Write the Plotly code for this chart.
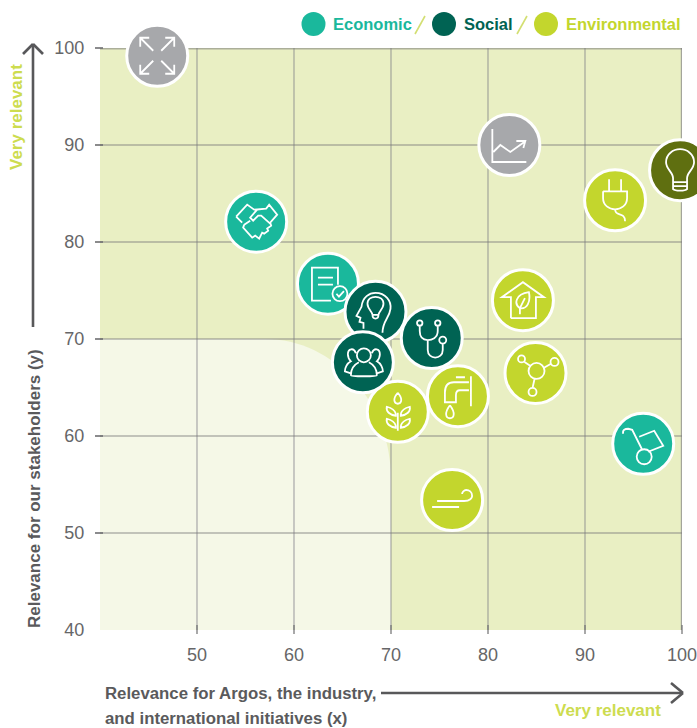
import plotly.graph_objects as go

# ---------- data ----------
topics = ["Expansion", "Partnerships", "Compliance", "Agriculture", "Water", "Knowledge",
          "Health", "Community", "Housing", "Circularity", "Air", "Energy", "Innovation", "Growth", "Logistics"]
x_vals = [45.9, 56.1, 63.5, 70.7, 76.9, 68.4, 74.2, 67.1, 83.6, 84.9, 76.3, 93.1, 99.8, 82.2, 96.0]
y_vals = [99.2, 82.1, 75.7, 62.5, 64.1, 72.8, 70.1, 67.6, 74.0, 66.5, 53.4, 84.3, 87.4, 90.0, 59.2]
groups = ["other", "eco", "eco", "env", "env", "soc", "soc", "soc", "env", "env", "env", "env", "dark", "other", "eco"]
icons_for = ["expand", "hands", "doc", "wheat", "tap", "head", "steth", "people", "house", "nodes", "wind", "plug", "bulb", "chart", "cart"]

tick_x = [50, 60, 70, 80, 90, 100]
tick_y = [40, 50, 60, 70, 80, 90, 100]
AX_MIN, AX_MAX = 40, 100

TEAL, DARK, LIME, GRAY, OLIVE = "#1AB89C", "#006353", "#C3D62D", "#A7A8AB", "#5F6F10"
palette = {"eco": TEAL, "soc": DARK, "env": LIME, "other": GRAY, "dark": OLIVE}
TXT = "#5A5A5C"
BOLD = "Liberation Sans, sans-serif"

# ---------- icon helpers: screen-space pixels around the marker centre (y down) ----------
def pl(*pts, close=False):
    return [("M", pts[0])] + [("L", p) for p in pts[1:]] + ([("Z",)] if close else [])

def cv(start, *segs):
    out = [("M", start)]
    for s in segs:
        out.append(("C", s[0], s[1], s[2]) if len(s) == 3 else ("L", s[0]))
    return out

def circ(cx, cy, r):
    k = 0.5523 * r
    return [("M", (cx + r, cy)),
            ("C", (cx + r, cy + k), (cx + k, cy + r), (cx, cy + r)),
            ("C", (cx - k, cy + r), (cx - r, cy + k), (cx - r, cy)),
            ("C", (cx - r, cy - k), (cx - k, cy - r), (cx, cy - r)),
            ("C", (cx + k, cy - r), (cx + r, cy - k), (cx + r, cy)), ("Z",)]

def to_path(parts):
    s = []
    for part in parts:
        for seg in part:
            if seg[0] == "Z":
                s.append("Z")
            else:
                s.append(seg[0] + " ".join(f"{p[0]},{-p[1]}" for p in seg[1:]))
    return " ".join(s)

expand = []
for sx in (-1, 1):
    for sy in (-1, 1):
        expand.append(pl((sx * 17, sy * 9), (sx * 17, sy * 18), (sx * 8, sy * 18)))
        expand.append(pl((sx * 17, sy * 18), (sx * 4, sy * 5)))

ICONS = {
    "expand": expand,
    "hands": [pl((-20, -5), (-9, -17), (-2, -12), (10, -13), (13, -17), (21, -7), (14, 1), (15, 4), (11, 7), (12, 9), (8, 12), (6, 11), (3, 17), (-1, 14), (-4, 16), (-13, 6), (-12, 3)),
              pl((10, -13), (1, -12), (-6, -4), (-3, -1), (2, -6), (5, -6), (14, 2)),
              pl((-20, -5), (-14, 1)), pl((-12, 3), (-6, -1))],
    "doc": [pl((10, 1), (10, -16), (-16, -16), (-16, 17), (3, 17)),
            pl((-10, -6), (5, -6)), pl((-10, 1), (5, 1)),
            circ(12, 10, 7.5), pl((8.5, 10), (11, 13), (16, 7.5))],
    "head": [cv((-12, 17), [(-12, 11)], [(-16, 10)], [(-15, 6)], [(-19, 4)], [(-14, -5)],
                ((-13, -15), (-6, -19), (0, -19)), ((10, -19), (16, -11), (15, -3)),
                ((14, 6), (7, 9), (7, 21))),
             cv((-3, 3), ((-3, 0), (-8, -3), (-8, -8)), ((-8, -13), (-4, -15), (0, -15)),
                ((4, -15), (8, -13), (8, -8)), ((8, -3), (3, 0), (3, 3))),
             pl((-3, 3), (3, 3)), cv((-3, 3), ((-3, 8), (3, 8), (3, 3)))],
    "steth": [circ(-12, -15, 2.7), circ(6, -15, 2.7), circ(11, 2, 3.5),
              cv((-12, -12), [(-12, -7)], ((-12, 0), (-8, 2), (-4, 2)), ((0, 2), (6, 0), (6, -7)), [(6, -12)]),
              cv((-4, 2), [(-4, 12)], ((-4, 22), (11, 22), (11, 12)), [(11, 6)])],
    "people": [circ(1, -7, 7),
               cv((-12, 13), ((-12, 14.5), (14, 14.5), (14, 13))),
               cv((-12, 13), ((-12, 6), (-8, 2), (-4, 0))),
               cv((14, 13), ((14, 6), (10, 2), (6, 0))),
               cv((-7, -9), ((-9, -15), (-15, -14), (-15, -8)), ((-15, -4), (-13, -2), (-12, -1)), ((-16, 1), (-18, 6), (-18, 9)), [(-12, 11)]),
               cv((9, -9), ((11, -15), (17, -14), (17, -8)), ((17, -4), (15, -2), (14, -1)), ((18, 1), (20, 6), (20, 9)), [(14, 11)])],
    "wheat": [cv((0, -19), ((-6, -12), (-3, -8), (0, -8)), ((3, -8), (6, -12), (0, -19))),
              cv((-2, 2), ((-3, -2), (-7, -4), (-11, -5)), ((-12, 0), (-8, 3), (-2, 4)), [(-2, 2)]),
              cv((3, 2), ((4, -2), (8, -4), (12, -5)), ((13, 0), (9, 3), (3, 4)), [(3, 2)]),
              cv((-2, 14), ((-3, 10), (-7, 8), (-11, 7)), ((-12, 12), (-8, 15), (-2, 16)), [(-2, 14)]),
              cv((3, 14), ((4, 10), (8, 8), (12, 7)), ((13, 12), (9, 15), (3, 16)), [(3, 14)]),
              pl((0, 1), (0, 19))],
    "tap": [pl((13, -20), (13, 10)), pl((-2, -19), (7, -19)),
            cv((11, -14), [(-4, -14)], ((-10, -14), (-13, -10), (-13, -4)), [(-13, 6)], [(-2, 6)], [(-2, -1)], ((-2, -4), (-1, -6), (2, -6)), [(11, -6)]),
            cv((-8, 9), ((-14, 17), (-12, 22), (-8, 22)), ((-4, 22), (-2, 17), (-8, 9)))],
    "house": [pl((-12, 18), (-12, -3), (-21, -3), (0, -18), (21, -3), (13, -3), (13, 18), (-12, 18)),
              cv((-3, 14), [(-3, 8)]),
              cv((-3, 8), ((-9, 4), (-8, -6), (6, -8)), ((8, 2), (4, 9), (-3, 8))),
              pl((-3, 8), (2, -2))],
    "nodes": [circ(1, -2, 8), circ(-14, -14, 3.5), circ(19, -11, 4), circ(-3, 19, 4),
              pl((-11, -11), (-5, -7)), pl((15, -9), (8, -5)), pl((-1, 6), (-3, 15))],
    "wind": [cv((-15, 1), [(12, 1)], ((18, 1), (20, -2), (20, -4)), ((20, -8), (17, -10), (14, -10)), ((12, -10), (10, -8), (10, -6))),
             pl((-20, 7), (7, 7))],
    "plug": [pl((-6, -21), (-6, -9)), pl((6, -21), (6, -9)),
             cv((-12, -9), [(12, -9)], [(12, -2)], ((12, 5), (6, 9), (0, 9)), ((-6, 9), (-12, 5), (-12, -2)), [(-12, -9)]),
             cv((0, 9), ((0, 17), (10, 11), (10, 21)))],
    "bulb": [cv((-7, 8), ((-7, 2), (-14, -1), (-14, -8)), ((-14, -16), (-7, -21), (0, -21)),
                ((7, -21), (14, -16), (14, -8)), ((14, -1), (7, 2), (7, 8)), [(7, 19)], ((5, 21), (-5, 21), (-7, 19)), [(-7, 8)]),
             pl((-7, 12), (7, 12)), pl((-7, 16), (7, 16))],
    "chart": [pl((-17, -16), (-17, 17), (17, 17)), pl((-16, 7), (-9, 0), (1, 7), (15, -3)), pl((7, -4), (16, -4), (14, 3))],
    "cart": [cv((-20, -10), ((-21, -14), (-18, -15), (-15, -15)), [(-11, -14)], [(-1, 6)]),
             circ(1, 13, 7.5), pl((-4, -7), (11, -13), (20, 2), (5, 8))],
}

# ---------- coordinate helpers ----------
def frac(v):
    return (v - AX_MIN) / (AX_MAX - AX_MIN)

def px(v):
    return (v - 100) / 582

def py(v):
    return (630 - v) / 582

shapes = []
# pale lower-left region (paper-referenced so it stays under the grid lines)
pale = (f"M{frac(40)},{frac(40)} L{frac(40)},{frac(70)} L{frac(57)},{frac(70)} "
        f"C{frac(64.15)},{frac(70)} {frac(70)},{frac(63.5)} {frac(70)},{frac(55.5)} L{frac(70)},{frac(40)} Z")
shapes.append(dict(type="path", xref="paper", yref="paper", layer="below", line=dict(width=0), fillcolor="#F5F8E7", path=pale))
# grid
for v in tick_x:
    w = 1.2 if v != AX_MAX else 2.4
    shapes.append(dict(type="line", xref="x", yref="paper", x0=v, x1=v, y0=0, y1=1, layer="below",
                       line=dict(color="rgba(120,120,130,0.62)", width=w)))
    shapes.append(dict(type="line", xref="paper", yref="paper", ysizemode="pixel", yanchor=0, x0=frac(v), x1=frac(v), y0=5, y1=-4, layer="below",
                       line=dict(color="#6E6E70", width=1.2)))
for v in tick_y[1:]:
    w = 1.6 if v != AX_MAX else 3
    shapes.append(dict(type="line", xref="paper", yref="y", x0=0, x1=1, y0=v, y1=v, layer="below",
                       line=dict(color="rgba(120,120,120,0.55)", width=w)))
    shapes.append(dict(type="line", xref="paper", yref="paper", xsizemode="pixel", xanchor=0, x0=-5, x1=3, y0=frac(v), y1=frac(v), layer="below",
                       line=dict(color="#6E6E70", width=1.6)))
# icons, anchored to the data values (paper refs so that they are not clipped at the axes' ends)
for name, xv, yv in zip(icons_for, x_vals, y_vals):
    shapes.append(dict(type="path", xref="paper", yref="paper", xsizemode="pixel", ysizemode="pixel",
                       xanchor=frac(xv), yanchor=frac(yv),
                       path=to_path(ICONS[name]), layer="above", line=dict(color="white", width=1.8)))
# arrows
ARW = dict(color="#58585A", width=2.6)
for a, b in [((33, 327), (33, 45)), ((23, 54), (33, 44)), ((33, 44), (43, 54)),
             ((381, 693), (682, 693)), ((671, 683), (683, 693)), ((683, 693), (671, 703))]:
    shapes.append(dict(type="line", xref="paper", yref="paper", x0=px(a[0]), y0=py(a[1]), x1=px(b[0]), y1=py(b[1]), line=ARW))
# legend dots
for cx, col in [(313.5, TEAL), (444, DARK), (546, LIME)]:
    shapes.append(dict(type="circle", xref="paper", yref="paper", x0=px(cx - 12), x1=px(cx + 12), y0=py(36), y1=py(12),
                       fillcolor=col, line=dict(width=0)))
for cx in (420, 522):
    shapes.append(dict(type="line", xref="paper", yref="paper", x0=px(cx - 5), x1=px(cx + 5), y0=py(34), y1=py(16),
                       line=dict(color="#D3DF73", width=1.6)))

def txt(s, x, y, color, size=18, anchor="left", angle=0):
    return dict(text=f"<b>{s}</b>", xref="paper", yref="paper", x=px(x), y=py(y), xanchor=anchor, yanchor="middle", showarrow=False,
                textangle=angle, font=dict(family=BOLD, size=size, color=color), align="left")

annotations = [
    txt("Economic", 331, 24, TEAL, 16.5),
    txt("Social", 462, 24, DARK, 16.5),
    txt("Environmental", 564, 24, LIME, 16.5),
    txt("Relevance for Argos, the industry,", 103, 693, TXT, 16.8),
    txt("and international initiatives (x)", 103, 718, TXT, 16.8),
    txt("Very relevant", 663, 710, "#CDDC4F", 17, "right"),
    txt("Relevance for our stakeholders (y)", 34, 489, TXT, 17, "center", -90),
    txt("Very relevant", 16, 117, "#CDDC4F", 17, "center", -90),
]

fig = go.Figure(go.Scatter(
    x=x_vals, y=y_vals, mode="markers", text=topics, hoverinfo="text", cliponaxis=False,
    marker=dict(size=61, color=[palette[g] for g in groups], line=dict(color="white", width=3), opacity=1),
))
fig.update_layout(
    width=697, height=728, margin=dict(l=100, r=15, t=48, b=98, pad=0), autosize=False,
    paper_bgcolor="white", plot_bgcolor="#E9EFC3", showlegend=False, shapes=shapes, annotations=annotations,
    font=dict(family="Liberation Sans, sans-serif", size=18, color="#666668"),
    xaxis=dict(range=[AX_MIN, AX_MAX], tickvals=tick_x, showgrid=False, zeroline=False, showline=False, automargin=False,
               ticks="outside", ticklen=8, tickcolor="rgba(0,0,0,0)", ticklabeloverflow="allow"),
    yaxis=dict(range=[AX_MIN, AX_MAX], tickvals=tick_y, showgrid=False, zeroline=False, showline=False, automargin=False,
               ticks="outside", ticklen=11, tickcolor="rgba(0,0,0,0)", ticklabeloverflow="allow"),
)
fig.write_html("out.html", config=dict(displayModeBar=False), post_script="document.body.style.margin='0';")
